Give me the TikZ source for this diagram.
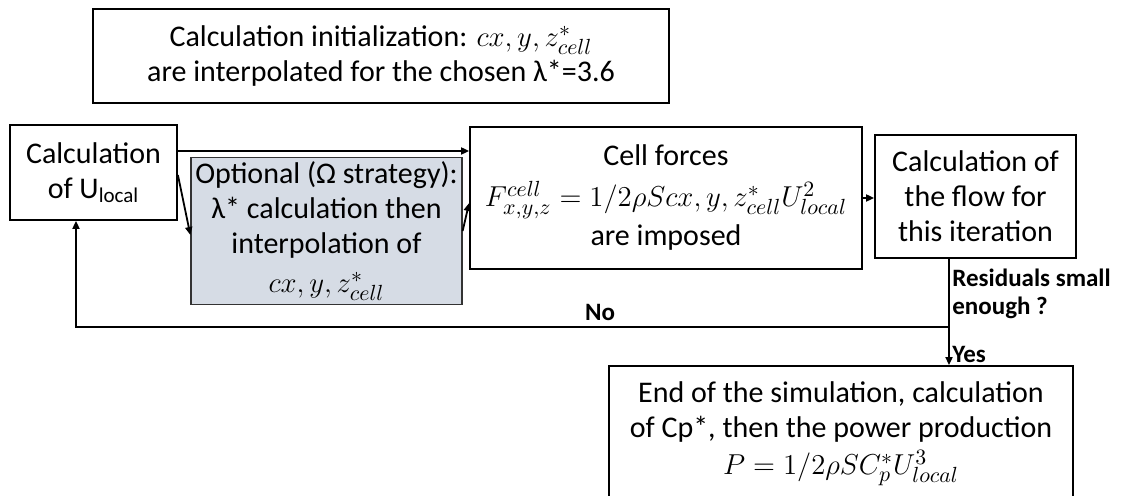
\documentclass[tikz,border=0pt]{standalone}
\usepackage{fontspec}
\setmainfont{Carlito}
\usetikzlibrary{arrows.meta,positioning}
\definecolor{optfill}{RGB}{214,220,229}
\newcommand{\formula}[1]{{\fontsize{15}{17}\selectfont$#1$}}
\tikzset{
  box/.style={
    rectangle,
    draw=black,
    line width=0.9pt,
    fill=white,
    align=center,
    inner sep=2pt,
    font=\fontsize{15}{17.5}\selectfont
  },
  optbox/.style={
    box,
    fill=optfill,
    draw=black!80
  },
  arrow/.style={
    -{Triangle[length=4pt,width=3.5pt]},
    line width=0.9pt,
    draw=black
  },
  line/.style={
    line width=0.9pt,
    draw=black
  },
  answer/.style={
    font=\bfseries\fontsize{12.5}{14}\selectfont,
    inner sep=0pt,
    align=left
  }
}

\begin{document}
\begin{tikzpicture}[x=0.5pt,y=-0.5pt]
  \useasboundingbox (0,0) rectangle (1122,496);

  \node[box, minimum width=288pt, minimum height=47pt] (init) at (381,56)
    {Calculation initialization: \formula{cx,y,z^*_{cell}}\\are interpolated for the chosen λ*=3.6};

  \node[box, minimum width=83.5pt, minimum height=47.5pt] (ulocal) at (93.5,172.5)
    {Calculation\\of U\textsubscript{local}};
  \node[optbox, minimum width=134.5pt, minimum height=72pt] (optional) at (326.5,231)
    {Optional (Ω strategy):\\λ* calculation then\\interpolation of\\[2pt]\formula{cx,y,z^*_{cell}}};
  \node[box, minimum width=196pt, minimum height=71pt] (cell) at (666,198)
    {Cell forces\\[3pt]\formula{F^{cell}_{x,y,z}=1/2\rho Scx,y,z^*_{cell}U^2_{local}}\\[2pt]are imposed};
  \node[box, minimum width=100.5pt, minimum height=61.5pt] (flow) at (975.5,196.5)
    {Calculation of\\the flow for\\this iteration};
  \node[box, minimum width=232pt, minimum height=68pt] (endsim) at (841,434)
    {End of the simulation, calculation\\of Cp*, then the power production\\[1pt]\formula{P=1/2\rho SC^*_pU^3_{local}}};

  \coordinate (split) at ([yshift=10.75pt]ulocal.east);
  \coordinate (branch) at (949,327);
  \coordinate (back) at (76,327);

  \draw[arrow] (split) -- (split -| cell.west);
  \draw[arrow] ([yshift=-1.25pt]ulocal.east) -- ([yshift=-2pt]optional.west);
  \draw[arrow] (optional.east) -- ([yshift=-2.5pt]cell.west);
  \draw[arrow] (cell.east) -- (cell.east -| flow.west);
  \draw[line] (branch |- flow.south) -- (branch);
  \draw[arrow] (branch) -- (back) -- (back |- ulocal.south);
  \draw[arrow] (branch) -- (branch |- endsim.north);

  \node[answer, anchor=west] (residuals) at (952,294) {Residuals small\\enough ?};
  \node[answer] (no) at (600,312) {No};
  \node[answer, anchor=west] (yes) at (952,354) {Yes};
\end{tikzpicture}
\end{document}
